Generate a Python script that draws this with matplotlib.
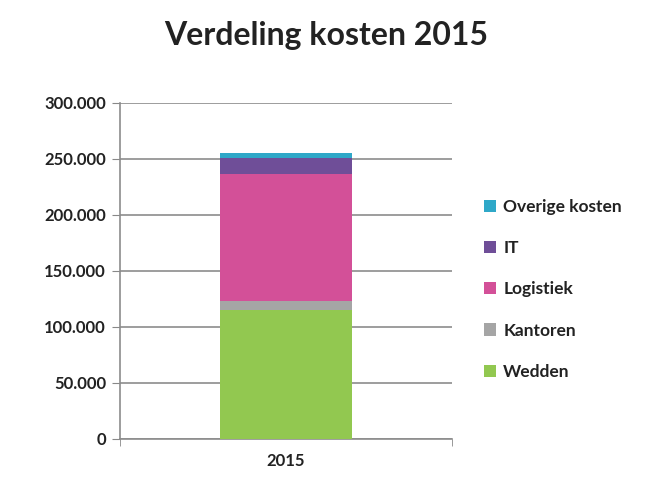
import matplotlib.pyplot as plt
from matplotlib.ticker import FuncFormatter

categories = ['2015']
series_names = ['Wedden', 'Kantoren', 'Logistiek', 'IT', 'Overige kosten']
wedden = [115000]
kantoren = [8500]
logistiek = [112500]
it = [14300]
overige = [4800]
colors = ['#92c850', '#a5a5a5', '#d35098', '#6f4e98', '#2fa8c8']

plt.rcParams['font.family'] = ['Lato', 'DejaVu Sans']

fig = plt.figure(figsize=(6.52, 4.78), dpi=100)
ax = fig.add_axes([0.184, 0.0816, 0.509, 0.7034])

x = [0]
bottom = [0]
handles = []
for name, vals, c in zip(series_names, [wedden, kantoren, logistiek, it, overige], colors):
    b = ax.bar(x, vals, width=0.4, bottom=bottom, color=c, label=name, zorder=3)
    handles.append(b)
    bottom = [bottom[i] + vals[i] for i in range(len(vals))]

ax.set_xlim(-0.5, 0.5)
ax.set_ylim(0, 300000)
ax.set_yticks(range(0, 300001, 50000))
ax.yaxis.set_major_formatter(FuncFormatter(lambda v, p: f'{int(v):,}'.replace(',', '.')))
ax.set_xticks(x)
ax.set_xticklabels(categories)
ax.set_xticks([-0.5, 0.5], minor=True)
ax.tick_params(axis='x', which='major', length=0, pad=10)
ax.tick_params(axis='x', which='minor', length=5, color='#888888', direction='out')
ax.tick_params(axis='y', length=6, color='#888888', direction='out', pad=4)
ax.tick_params(labelsize=12, labelcolor='#222222')
for lab in ax.get_yticklabels() + ax.get_xticklabels():
    lab.set_fontweight('bold')

ax.grid(axis='y', color='#8c8c8c', linewidth=1.2, zorder=0)
for s in ['top', 'right']:
    ax.spines[s].set_visible(False)
for s in ['left', 'bottom']:
    ax.spines[s].set_color('#8c8c8c')
    ax.spines[s].set_linewidth(1.2)

leg = ax.legend(handles[::-1], series_names[::-1], loc='center left',
                bbox_to_anchor=(1.05, 0.445), frameon=False, fontsize=12.5,
                handlelength=0.7, handleheight=0.7, handletextpad=0.4,
                labelspacing=1.45)
for t in leg.get_texts():
    t.set_fontweight('bold')
    t.set_color('#222222')

fig.text(0.5, 0.925, 'Verdeling kosten 2015', ha='center', va='center',
         fontsize=23, fontweight='bold', color='#222222')

fig.savefig('out.png', dpi=100)
